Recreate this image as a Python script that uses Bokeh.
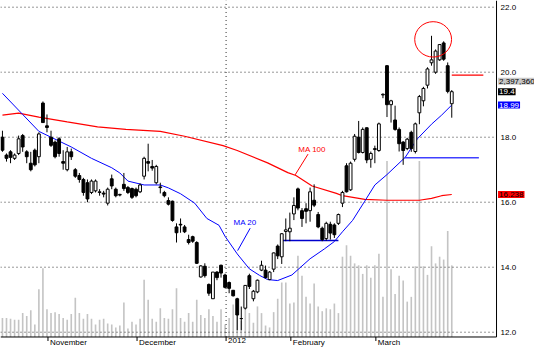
from bokeh.plotting import figure
from bokeh.models import Range1d, Label, ColumnDataSource
from bokeh.core.properties import value
from bokeh.embed import file_html
from bokeh.resources import INLINE

# ---------------- data ----------------
opens = [18.00, 17.45, 17.55, 17.35, 17.50, 18.05, 17.55, 17.20, 17.60, 17.40,
         19.05, 18.35, 18.00, 17.85, 17.95, 17.25, 17.00, 17.55, 17.00, 16.82,
         16.70, 16.60, 16.30, 16.35, 16.30, 16.28, 15.97, 16.72, 16.40, 16.22,
         16.55, 16.45, 16.42, 16.40, 16.32, 16.80, 17.25, 17.10, 16.60, 16.47,
         16.30, 16.05, 16.03, 15.24, 15.32, 15.24, 14.85, 14.94, 14.76, 13.70,
         14.03, 13.47, 13.03, 13.85, 14.06, 13.76, 13.53, 13.29, 13.03, 12.42,
         12.74, 13.74, 13.03, 13.24, 13.91, 13.91, 13.62, 13.94, 14.65, 14.32,
         15.10, 15.09, 15.64, 16.41, 15.74, 15.80, 15.74, 16.06, 15.62, 15.20,
         14.88, 15.32, 15.30, 15.35, 15.97, 17.12, 16.38, 17.32, 18.00, 17.53,
         18.29, 17.32, 17.62, 17.59, 19.30, 20.20, 19.00, 18.53, 18.24, 17.85,
         17.65, 18.15, 17.56, 18.75, 19.12, 19.60, 20.29, 20.00, 20.38, 20.90,
         20.20, 19.03]
highs = [18.20, 17.50, 17.60, 17.50, 18.05, 18.10, 17.60, 17.55, 17.65, 18.15,
         19.10, 18.70, 18.20, 17.90, 18.00, 17.60, 17.70, 17.65, 17.05, 16.90,
         16.75, 16.70, 16.70, 16.70, 16.40, 16.35, 16.45, 16.85, 16.45, 16.26,
         16.90, 16.50, 16.45, 16.45, 16.58, 17.40, 17.80, 17.30, 17.15, 16.60,
         16.35, 16.15, 16.05, 15.35, 15.50, 15.30, 15.00, 14.97, 14.80, 14.06,
         14.12, 13.50, 13.85, 13.88, 14.08, 13.80, 13.56, 13.30, 13.06, 12.79,
         13.45, 13.80, 13.30, 13.62, 14.20, 14.05, 13.88, 14.45, 14.70, 15.05,
         15.50, 15.68, 16.15, 16.45, 15.82, 15.97, 16.45, 16.55, 15.70, 15.25,
         15.40, 15.40, 15.35, 15.65, 16.35, 17.20, 17.25, 18.10, 18.50, 18.30,
         18.30, 17.56, 17.74, 18.45, 19.35, 20.22, 19.15, 18.97, 18.30, 17.88,
         17.98, 18.20, 18.45, 19.30, 19.55, 20.15, 21.12, 20.70, 20.85, 20.95,
         20.30, 19.45]
lows = [17.55, 17.25, 17.20, 17.30, 17.45, 17.55, 17.20, 16.95, 17.10, 17.20,
        18.45, 18.15, 17.70, 17.35, 17.40, 17.00, 16.95, 17.30, 16.75, 16.60,
        16.20, 16.00, 16.25, 16.30, 16.20, 16.15, 15.90, 16.40, 16.15, 16.18,
        16.35, 16.25, 16.10, 16.15, 16.28, 16.70, 16.95, 16.97, 16.55, 16.27,
        16.15, 15.90, 15.40, 14.76, 15.06, 15.05, 14.70, 14.75, 14.10, 13.68,
        13.68, 13.12, 13.03, 13.60, 13.68, 13.35, 13.20, 13.10, 12.06, 12.06,
        12.70, 13.33, 12.95, 13.20, 13.88, 13.66, 13.60, 13.85, 14.25, 14.10,
        14.80, 14.80, 15.45, 15.75, 15.24, 15.35, 15.40, 15.85, 15.20, 14.80,
        14.82, 14.85, 14.90, 15.30, 15.85, 16.30, 16.35, 17.25, 17.50, 17.50,
        17.20, 17.06, 17.20, 17.55, 19.20, 18.62, 18.45, 18.20, 17.56, 17.15,
        17.60, 17.55, 17.50, 18.40, 18.95, 19.50, 20.20, 19.95, 20.35, 20.35,
        19.35, 18.60]
closes = [17.60, 17.35, 17.38, 17.45, 17.95, 17.70, 17.40, 17.00, 17.15, 18.10,
          18.45, 18.30, 17.75, 17.40, 17.50, 17.20, 17.55, 17.40, 16.80, 16.70,
          16.30, 16.10, 16.65, 16.65, 16.32, 16.25, 16.40, 16.50, 16.20, 16.24,
          16.42, 16.30, 16.15, 16.20, 16.53, 17.35, 17.20, 17.05, 17.10, 16.45,
          16.20, 15.94, 15.44, 15.06, 15.30, 15.09, 14.76, 14.80, 14.12, 14.04,
          13.74, 13.20, 13.85, 13.68, 13.82, 13.38, 13.35, 13.12, 12.53, 12.42,
          13.44, 13.41, 13.26, 13.60, 14.06, 13.68, 13.85, 14.44, 14.35, 15.03,
          15.15, 15.20, 15.90, 15.82, 15.50, 15.72, 16.32, 15.91, 15.24, 14.85,
          15.35, 15.05, 15.00, 15.62, 16.30, 16.32, 17.20, 18.03, 17.53, 18.24,
          17.30, 17.50, 17.65, 18.41, 19.32, 19.00, 19.12, 18.24, 17.80, 17.59,
          17.94, 17.65, 18.41, 19.25, 19.50, 20.10, 20.38, 20.65, 20.85, 20.40,
          19.41, 19.40]
# volume, thousands of shares
volumes = [640, 640, 608, 576, 576, 800, 704, 896, 416, 1600,
           2304, 928, 800, 832, 768, 640, 576, 768, 1312, 800,
           608, 768, 608, 416, 576, 608, 448, 416, 320, 384,
           1152, 288, 512, 416, 608, 1920, 1248, 608, 512, 960,
           640, 608, 928, 1632, 640, 512, 800, 512, 1248, 736,
           640, 928, 704, 512, 928, 416, 640, 1088, 800, 544,
           1024, 800, 480, 1024, 800, 384, 320, 832, 1280, 1824,
           1824, 1120, 1152, 2720, 2048, 1344, 1120, 1792, 1024, 864,
           960, 928, 1120, 800, 2688, 3072, 2720, 2464, 2400, 2112,
           2400, 1984, 2400, 2784, 1344, 5888, 2272, 1440, 2048, 1888,
           1184, 1344, 2368, 5888, 2368, 2080, 3040, 2464, 2688, 2592,
           3552, 2397.36]

ma20_idx = [0, 5, 9, 12, 17, 22, 27, 29, 31, 35, 39, 41, 44, 47.5, 50.5, 53.5, 55, 58,
            61, 63.5, 65.5, 68, 71.5, 76, 79.5, 82, 84, 86.5, 89.5, 92, 95, 99.5, 102.5,
            106, 108.5, 111]
ma20_val = [19.35, 18.70, 18.18, 18.00, 17.70, 17.35, 17.06, 16.90, 16.65, 16.53, 16.53,
            16.44, 16.26, 15.97, 15.50, 15.29, 14.95, 14.41, 13.95, 13.75, 13.62, 13.59,
            13.76, 14.26, 14.56, 14.79, 15.09, 15.44, 16.03, 16.53, 16.85, 17.38, 17.95,
            18.40, 18.68, 18.99]
ma100_idx = [0, 4, 9, 16, 23.5, 30.5, 39, 45, 54.5, 58, 65.5, 70.5, 72.5, 76.5, 82.5,
             84, 89.5, 95, 103, 106, 108.5, 111]
ma100_val = [18.68, 18.74, 18.62, 18.47, 18.32, 18.24, 18.18, 18.03, 17.74, 17.59, 17.21,
             16.91, 16.82, 16.50, 16.27, 16.20, 16.09, 16.06, 16.06, 16.12, 16.20, 16.238]

month_ticks = [11.25, 33.25, 55.25, 71.25, 92.25]
month_labels = ["November", "December", "2012", "February", "March"]
price_ticks = [12, 14, 16, 18, 20, 22]

# drawn level lines: (start index, end index, price)
support_line = [69, 83, 14.82]
ma_level_line = [99.3, 117.7, 17.37]
resist_line = [111, 118.8, 19.91]

# value boxes on the price scale: text, price, background, text colour
value_boxes = [("2,397,360", 19.72, "#c8c8c8", "black"),
               ("19.4", 19.40, "black", "white"),
               ("18.99", 18.99, "#0000ff", "white"),
               ("16.238", 16.238, "#ff0000", "black")]

FONT = "Liberation Sans"
FS = "8px"

# ---------------- layout constants ----------------
X_LEFT, X_AXIS, X_RIGHT = -0.48, 122.06, 131.44      # index units
Y_BOTTOM, Y_AXIS, Y_TOP = 11.499, 11.853, 22.206      # price units
TICK_LEN = 0.123                                      # ~4 px in price units

p = figure(width=534, height=348, output_backend="svg", toolbar_location=None,
           x_range=Range1d(X_LEFT, X_RIGHT), y_range=Range1d(Y_BOTTOM, Y_TOP),
           x_axis_location=None, y_axis_location=None,
           min_border=0, min_border_left=0, min_border_right=0,
           min_border_top=0, min_border_bottom=0,
           background_fill_color="white", border_fill_color="white")
p.outline_line_color = None
p.xgrid.visible = False
p.ygrid.visible = False

# volume on its own scale (baseline on the time axis)
p.extra_y_ranges = {"vol": Range1d(-385, 11264)}
n = len(closes)
idx = list(range(n))
p.vbar(x=idx, top=volumes, bottom=0, width=0.4, y_range_name="vol",
       fill_color="#c4c4c4", line_color=None)

# dotted grid
p.segment(x0=[X_LEFT] * len(price_ticks), y0=price_ticks,
          x1=[X_AXIS - 0.3] * len(price_ticks), y1=price_ticks,
          line_color="#303030", line_dash="1 3", line_width=1)
p.segment(x0=[month_ticks[2]], y0=[Y_AXIS], x1=[month_ticks[2]], y1=[Y_TOP],
          line_color="#303030", line_dash="1 3", line_width=1)

# axes lines, ticks and labels
p.segment(x0=[X_LEFT], y0=[Y_AXIS], x1=[X_AXIS], y1=[Y_AXIS], line_color="black", line_width=1)
p.segment(x0=[X_AXIS], y0=[Y_AXIS], x1=[X_AXIS], y1=[Y_TOP], line_color="black", line_width=1)
p.segment(x0=month_ticks, y0=[Y_AXIS] * 5, x1=month_ticks, y1=[Y_AXIS - TICK_LEN] * 5,
          line_color="black", line_width=1)
p.text(x=month_ticks, y=[Y_AXIS] * 5, text=month_labels, x_offset=2, y_offset=1,
       text_font=value(FONT), text_font_size=FS, text_color="black",
       text_align="left", text_baseline="top")
p.text(x=[X_AXIS] * len(price_ticks), y=price_ticks,
       text=["%.1f" % v for v in price_ticks], x_offset=4,
       text_font=value(FONT), text_font_size=FS, text_color="black",
       text_align="left", text_baseline="middle")

# moving averages
p.line(ma100_idx, ma100_val, line_color="#ff0000", line_width=1.2)
p.line(ma20_idx, ma20_val, line_color="#0000ff", line_width=1)

# level lines
p.line([support_line[0], support_line[1]], [support_line[2]] * 2, line_color="#0000cc", line_width=1.6)
p.line([ma_level_line[0], ma_level_line[1]], [ma_level_line[2]] * 2, line_color="#4040ff", line_width=1.4)
p.line([resist_line[0], resist_line[1]], [resist_line[2]] * 2, line_color="#ff0000", line_width=1.4)

# candles
src = ColumnDataSource(dict(
    x=idx, o=opens, h=highs, l=lows, c=closes,
    top=[max(o, c) for o, c in zip(opens, closes)],
    bot=[min(o, c) for o, c in zip(opens, closes)],
    fill=["white" if c >= o else "black" for o, c in zip(opens, closes)],
))
p.segment(x0="x", y0="l", x1="x", y1="h", source=src, line_color="black", line_width=1)
p.vbar(x="x", top="top", bottom="bot", width=0.7, source=src,
       fill_color="fill", line_color="black", line_width=1)

# highlight ellipse
p.ellipse(x=[106.4], y=[21.01], width=9.1, height=1.09, fill_color=None,
          line_color="#ff0000", line_width=1)

# MA labels with pointers
p.text(x=[57.1], y=[15.38], text=["MA 20"], text_color="#0000ff",
       text_font=value(FONT), text_font_size=FS, text_baseline="middle", text_align="left")
p.segment(x0=[61.2], y0=[15.20], x1=[58.1], y1=[14.51], line_color="#0000ff", line_width=1)
p.text(x=[73.1], y=[17.63], text=["MA 100"], text_color="#ff0000",
       text_font=value(FONT), text_font_size=FS, text_baseline="middle", text_align="left")
p.segment(x0=[75.5], y0=[17.48], x1=[72.3], y1=[16.84], line_color="#ff0000", line_width=1)

# value boxes on the right scale
for txt, yv, bg, fg in value_boxes:
    p.add_layout(Label(x=X_AXIS, y=yv, x_offset=1.5, text=txt, text_font=FONT,
                       text_font_size=FS, text_color=fg, text_baseline="middle",
                       text_align="left", background_fill_color=bg, padding=1))

open("out.html", "w").write(file_html(p, INLINE, title="chart"))
